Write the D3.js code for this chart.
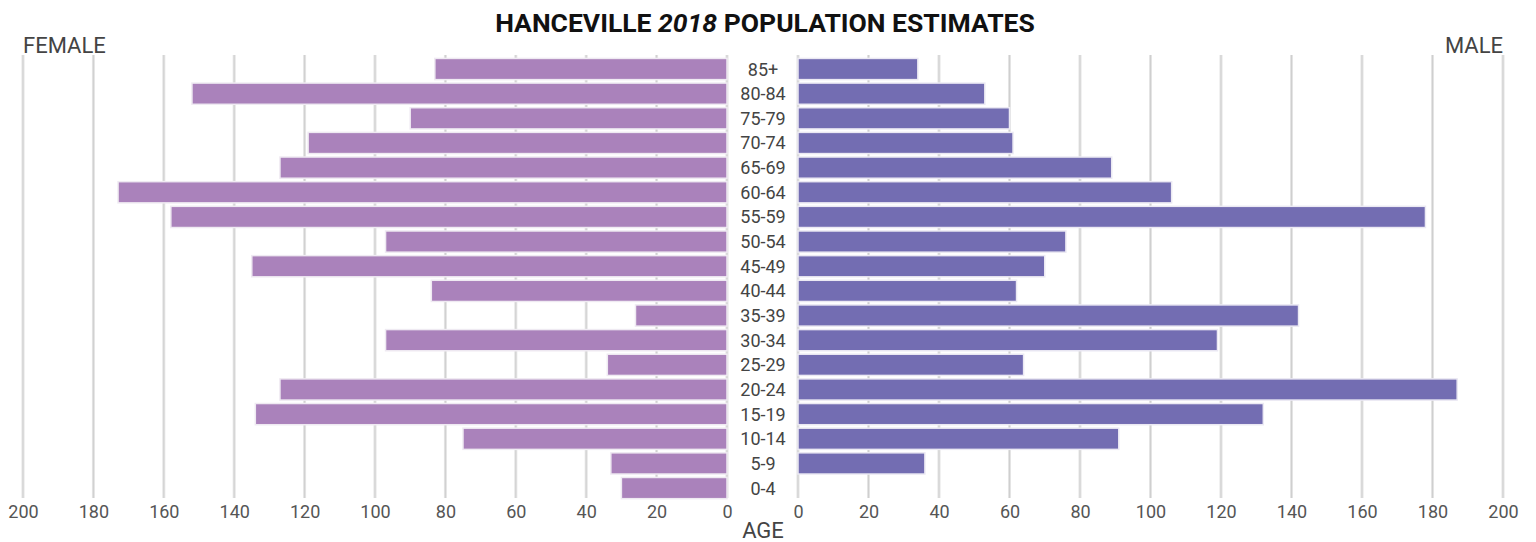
<!DOCTYPE html>
<html><head><meta charset="utf-8">
<script src="https://cdn.jsdelivr.net/npm/d3@7"></script>
<style>
body{margin:0;background:#fff;}
svg{display:block;font-family:Roboto,"Open Sans",sans-serif;}
</style></head>
<body><svg id="c" width="1536" height="542"></svg>
<script>
const ages = ["85+","80-84","75-79","70-74","65-69","60-64","55-59","50-54","45-49","40-44","35-39","30-34","25-29","20-24","15-19","10-14","5-9","0-4"];
const female = [83,152,90,119,127,173,158,97,135,84,26,97,34,127,134,75,33,30];
const male = [34,53,60,61,89,106,178,76,70,62,142,119,64,187,132,91,36,0];
const ticks = [0,20,40,60,80,100,120,140,160,180,200];
const titleParts = ["HANCEVILLE ","2018"," POPULATION ESTIMATES"];

const svg = d3.select("#c");
const xL = d3.scaleLinear().domain([0,200]).range([727,23]);
const xR = d3.scaleLinear().domain([0,200]).range([798,1503]);
const y = d3.scaleBand().domain(ages).range([56.7,500.4]).paddingInner(0.14).paddingOuter(0.07);

// gridlines
const grid = svg.append("g");
[xL,xR].forEach(s=>{
  grid.selectAll(null).data(ticks).enter().append("line")
    .attr("x1",d=>s(d)).attr("x2",d=>s(d)).attr("y1",55).attr("y2",498)
    .attr("stroke","#e4e4e4").attr("stroke-width",3);
  grid.selectAll(null).data(ticks).enter().append("line")
    .attr("x1",d=>s(d)).attr("x2",d=>s(d)).attr("y1",55).attr("y2",498)
    .attr("stroke","#cfcfcf").attr("stroke-width",1);
});

// bars
svg.append("g").selectAll("rect").data(ages).enter().append("rect")
  .attr("x",(d,i)=>xL(female[i])).attr("width",(d,i)=>xL(0)-xL(female[i]))
  .attr("y",d=>y(d)).attr("height",y.bandwidth())
  .attr("fill","#aa82bb").attr("stroke","#efeaf2").attr("stroke-width",1.5);
svg.append("g").selectAll("rect").data(ages.filter((d,i)=>male[i]>0)).enter().append("rect")
  .attr("x",xR(0)).attr("width",d=>xR(male[ages.indexOf(d)])-xR(0))
  .attr("y",d=>y(d)).attr("height",y.bandwidth())
  .attr("fill","#736db2").attr("stroke","#ebe9f3").attr("stroke-width",1.5);

// age labels
svg.append("g").selectAll("text").data(ages).enter().append("text")
  .attr("x",763).attr("y",d=>y(d)+y.bandwidth()/2).attr("dy","0.36em")
  .attr("text-anchor","middle").attr("font-size",18).attr("fill","#444").text(d=>d);

// axes
const axL = d3.axisBottom(xL).tickValues(ticks).tickSize(0).tickPadding(0);
const axR = d3.axisBottom(xR).tickValues(ticks).tickSize(0).tickPadding(0);
[axL,axR].forEach(a=>{
  const g = svg.append("g").attr("transform","translate(0,505)").call(a);
  g.select(".domain").remove();
  g.selectAll("text").attr("font-size",18).attr("fill","#555").attr("font-family","Roboto").attr("dy","0.71em");
});

svg.append("text").attr("x",763).attr("y",538).attr("text-anchor","middle")
  .attr("font-size",22).attr("fill","#444").text("AGE");
svg.append("text").attr("x",23).attr("y",53).attr("font-size",22).attr("fill","#444").text("FEMALE");
svg.append("text").attr("x",1503).attr("y",53).attr("text-anchor","end").attr("font-size",22).attr("fill","#444").text("MALE");

const t = svg.append("text").attr("x",765).attr("y",32).attr("text-anchor","middle")
  .attr("font-size",26.5).attr("font-weight","bold").attr("fill","#111");
titleParts.forEach((p,i)=>t.append("tspan").attr("font-style",i===1?"italic":null).text(p));
</script></body></html>
